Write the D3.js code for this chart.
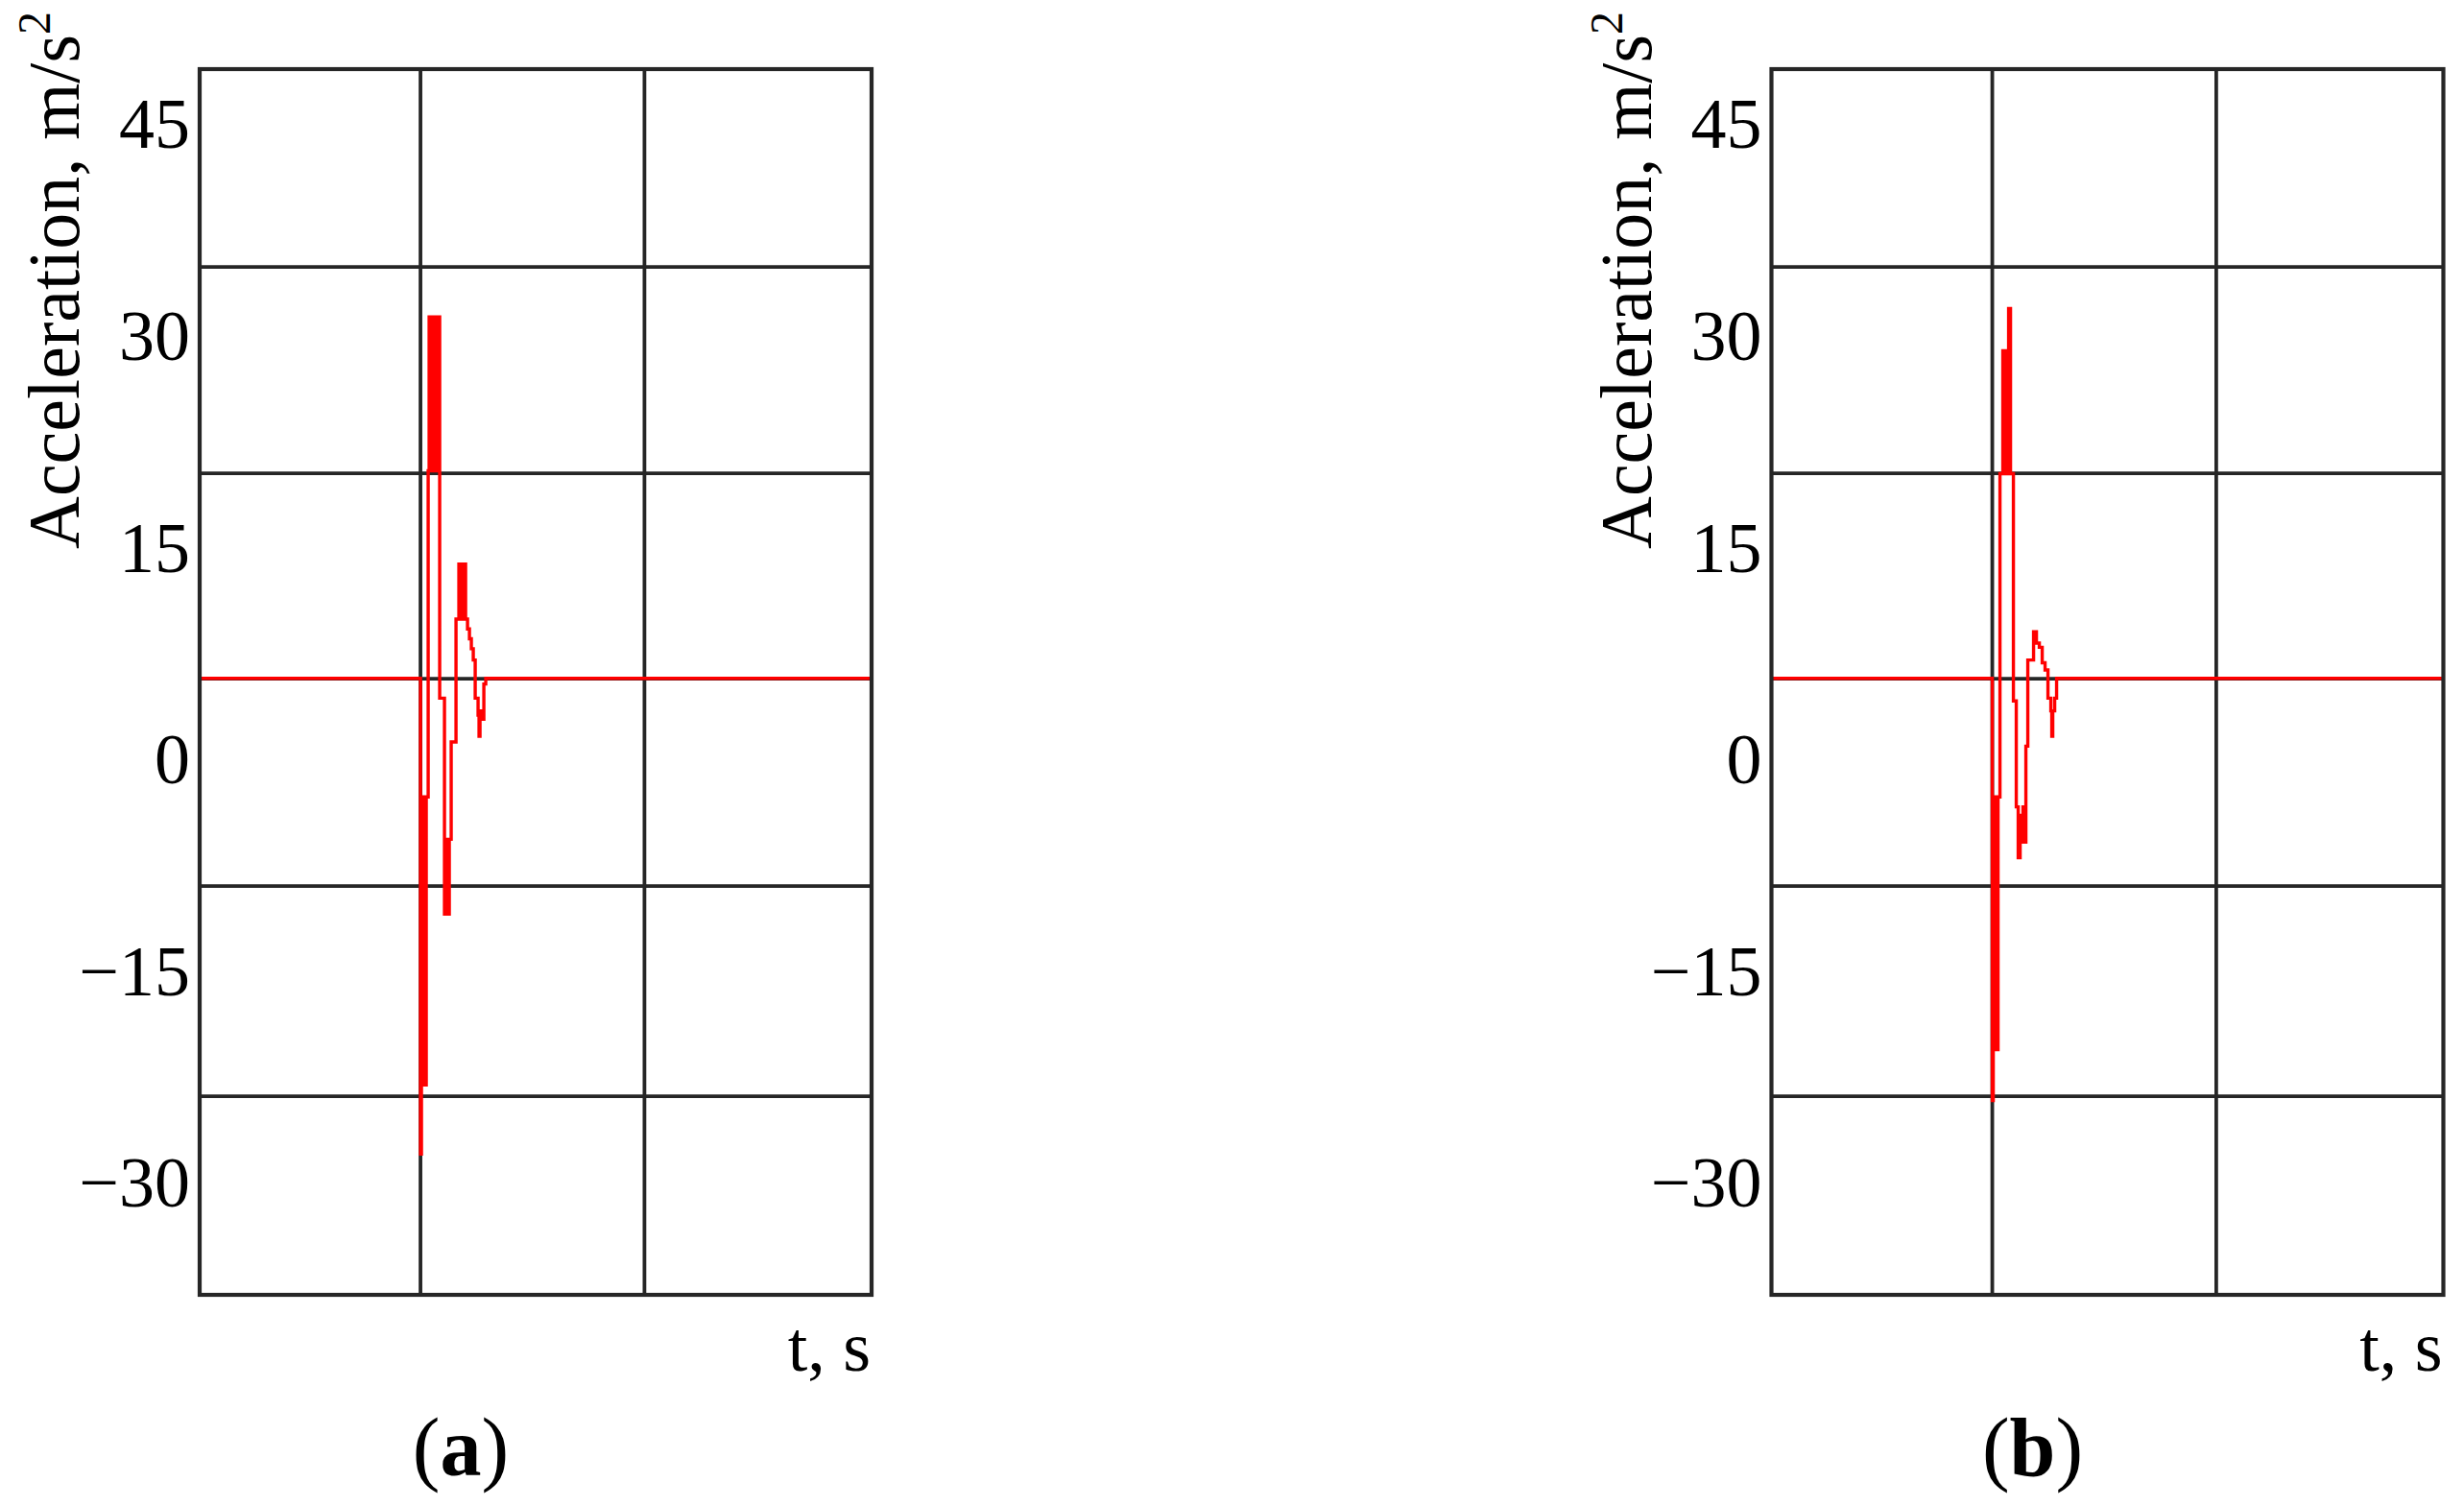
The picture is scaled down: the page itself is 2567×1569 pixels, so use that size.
<!DOCTYPE html>
<html>
<head>
<meta charset="utf-8">
<script src="https://cdn.jsdelivr.net/npm/d3@7"></script>
<style>
  body { margin: 0; background: #fff; }
  text { font-family: "Liberation Serif", "Times New Roman", serif; fill: #000; }
</style>
</head>
<body>
<svg id="chart" width="2567" height="1569"></svg>
<script>
// acceleration traces, (a) and (b)
var panels = ["a", "b"];
var tickValues = [45, 30, 15, 0, -15, -30];
var gridValues = [34.95, 20.33, 5.78, -8.91, -23.8]; // horizontal grid lines (not on the ticks)
var gridTimes = [0, 1];
var tDomain = [-0.986, 2.014];
var aDomain = [-37.87, 48.96];
var restLevel = 5.8;

// panel (a)
var timeA = [0, 0.0043, 0.0086, 0.0129, 0.0171, 0.0214, 0.0257, 0.0343, 0.0386, 0.0429,
  0.0471, 0.0514, 0.0557, 0.06, 0.0643, 0.0686, 0.0729, 0.0771, 0.0814, 0.0857,
  0.1071, 0.1114, 0.1157, 0.12, 0.1243, 0.1286, 0.1371, 0.1586, 0.1714, 0.1757,
  0.18, 0.1843, 0.1886, 0.1929, 0.1971, 0.2014, 0.21, 0.2186, 0.2271, 0.2357,
  0.2443, 0.2571, 0.2614, 0.2657, 0.2743, 0.2829, 0.2914];
var accA = [-27.9, -23.0, -2.6, -23.0, -2.6, -23.0, -2.6, 20.5, 31.4, 20.5,
  31.4, 20.5, 31.4, 20.5, 31.4, 20.5, 31.4, 20.5, 31.4, 4.4,
  -10.9, -5.6, -10.9, -5.6, -10.9, -5.6, 1.3, 10.0, 13.9, 10.0,
  13.9, 10.0, 13.9, 10.0, 13.9, 10.0, 9.3, 8.6, 7.9, 7.1,
  4.4, 3.2, 1.7, 3.5, 2.9, 5.4, 5.8];

// panel (b)
var timeB = [0, 0.0043, 0.0086, 0.0129, 0.0171, 0.0214, 0.0257, 0.0343, 0.0471, 0.0514,
  0.0557, 0.06, 0.0643, 0.0686, 0.0729, 0.0814, 0.0943, 0.1071, 0.1157, 0.1243,
  0.1329, 0.1371, 0.1414, 0.15, 0.1586, 0.1843, 0.1971, 0.21, 0.2229, 0.2357,
  0.2486, 0.2614, 0.2657, 0.27, 0.2786, 0.2871];
var accB = [-24.1, -20.5, -2.6, -20.5, -2.6, -20.5, -2.6, 20.3, 29.0, 20.3,
  29.0, 20.3, 29.0, 20.3, 32.0, 20.3, 4.2, -3.3, -6.9, -3.9,
  -5.8, -3.3, -5.8, 1.0, 7.1, 9.1, 8.3, 8.0, 6.9, 6.4,
  4.4, 3.5, 1.7, 3.5, 4.4, 5.8];

var series = [
  { key: "a", t: timeA, v: accA },
  { key: "b", t: timeB, v: accB }
];

var svg = d3.select("#chart");
var panelShift = 1637.5;

var x = d3.scaleLinear().domain(tDomain).range([208, 908]);
var y = d3.scaleLinear().domain(aDomain).range([1349, 72]);

var line = d3.line()
    .x(function (d) { return x(d[0]); })
    .y(function (d) { return y(d[1]); })
    .curve(d3.curveStepAfter);

series.forEach(function (s, i) {
  var g = svg.append("g").attr("transform", "translate(" + (i * panelShift) + ",0)");

  // grid
  g.append("g").selectAll("line.h")
    .data(gridValues).enter().append("line")
    .attr("x1", x.range()[0]).attr("x2", x.range()[1])
    .attr("y1", function (d) { return y(d); }).attr("y2", function (d) { return y(d); })
    .attr("stroke", "#262626").attr("stroke-width", 3.8);
  g.append("g").selectAll("line.v")
    .data(gridTimes).enter().append("line")
    .attr("y1", y.range()[0]).attr("y2", y.range()[1])
    .attr("x1", function (d) { return x(d); }).attr("x2", function (d) { return x(d); })
    .attr("stroke", "#262626").attr("stroke-width", 3.8);

  // signal, resting level before and after the event
  var pts = [[tDomain[0], restLevel]];
  s.t.forEach(function (t, j) { pts.push([t, s.v[j]]); });
  pts.push([tDomain[1], restLevel]);

  g.append("path")
    .datum(pts)
    .attr("d", line)
    .attr("fill", "none")
    .attr("stroke", "#ff0000")
    .attr("stroke-width", 3.4)
    .attr("stroke-linejoin", "miter");

  // frame
  g.append("rect")
    .attr("x", 208).attr("y", 72)
    .attr("width", 700).attr("height", 1277)
    .attr("fill", "none").attr("stroke", "#262626").attr("stroke-width", 4.2);

  // y ticks
  var ax = g.append("g")
    .attr("transform", "translate(208,0)")
    .call(d3.axisLeft(y).tickValues(tickValues).tickSize(0).tickPadding(10));
  ax.select(".domain").remove();
  ax.selectAll("text")
    .attr("font-family", "Liberation Serif, Times New Roman, serif")
    .attr("font-size", 74)
    .attr("fill", "#000");

  // y label
  var yl = g.append("text")
    .attr("transform", "translate(82,292) rotate(-90)")
    .attr("text-anchor", "middle")
    .attr("font-size", 76);
  yl.append("tspan").text("Acceleration, m/s");
  yl.append("tspan").attr("font-size", 48).attr("dy", -30).text("2");

  // x label
  g.append("text")
    .attr("x", 907).attr("y", 1428)
    .attr("text-anchor", "end")
    .attr("font-size", 74)
    .text("t, s");

  // panel letter
  var cap = g.append("text")
    .attr("x", 480).attr("y", 1537)
    .attr("text-anchor", "middle")
    .attr("font-size", 86);
  cap.append("tspan").text("(");
  cap.append("tspan").attr("font-weight", "bold").text(s.key);
  cap.append("tspan").text(")");
});
</script>
</body>
</html>
